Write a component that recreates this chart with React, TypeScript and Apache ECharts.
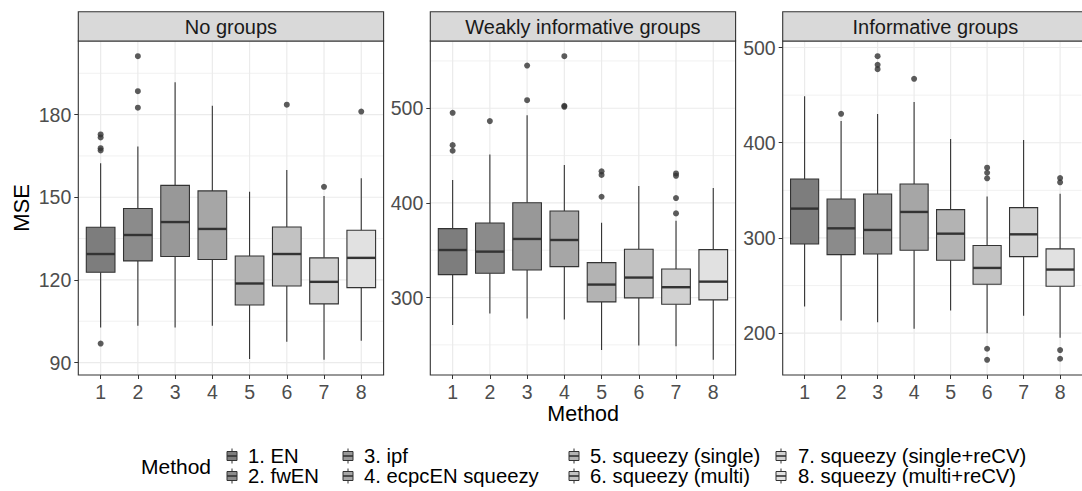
import React, { useEffect, useRef } from "react";
import * as echarts from "echarts";

// ---------- data ----------
const methods = [
  "1. EN",
  "2. fwEN",
  "3. ipf",
  "4. ecpcEN squeezy",
  "5. squeezy (single)",
  "6. squeezy (multi)",
  "7. squeezy (single+reCV)",
  "8. squeezy (multi+reCV)",
];
const methodIndex = [1, 2, 3, 4, 5, 6, 7, 8];
const fills = ["#7d7d7d", "#8b8b8b", "#989898", "#a6a6a6", "#b3b3b3", "#c2c2c2", "#d1d1d1", "#e1e1e1"];
const panelTitles = ["No groups", "Weakly informative groups", "Informative groups"];

// [lower whisker, Q1, median, Q3, upper whisker]
const noGroupsStats = [
  [102.7, 122.8, 129.4, 139.1, 162.3],
  [103.4, 126.9, 136.3, 145.9, 168.4],
  [102.7, 128.5, 141.0, 154.3, 191.7],
  [103.4, 127.4, 138.5, 152.3, 183.2],
  [91.3, 110.9, 118.7, 128.7, 152.0],
  [97.6, 117.8, 129.4, 139.2, 159.9],
  [91.0, 111.3, 119.3, 128.0, 150.5],
  [97.9, 117.2, 128.0, 138.0, 156.9],
];
const noGroupsOutliers = [
  [1, 172.8], [1, 171.7], [1, 167.8], [1, 167.0], [1, 96.9],
  [2, 201.2], [2, 188.5], [2, 182.5],
  [6, 183.6], [7, 153.8], [8, 181.1],
];
const weaklyStats = [
  [271.1, 324.2, 350.2, 372.8, 424.1],
  [283.1, 325.6, 348.5, 378.7, 451.2],
  [277.8, 329.1, 361.9, 400.2, 492.7],
  [276.7, 332.7, 360.8, 391.4, 439.9],
  [244.7, 295.4, 313.7, 336.9, 379.1],
  [249.3, 299.6, 321.1, 351.0, 417.8],
  [248.6, 292.9, 310.9, 330.2, 381.2],
  [234.2, 297.5, 316.8, 350.6, 415.7],
];
const weaklyOutliers = [
  [1, 495.2], [1, 461.0], [1, 455.1],
  [2, 486.4],
  [3, 545.1], [3, 508.5],
  [4, 555.0], [4, 502.5], [4, 501.5],
  [5, 433.3], [5, 429.5], [5, 406.5],
  [7, 431.1], [7, 428.6], [7, 405.1], [7, 388.9],
];
const informativeStats = [
  [228.0, 293.7, 330.8, 361.9, 448.9],
  [213.3, 282.5, 310.1, 340.9, 422.7],
  [211.5, 283.2, 308.4, 346.2, 430.1],
  [204.5, 287.1, 327.3, 356.6, 442.7],
  [223.8, 276.6, 304.5, 329.7, 403.8],
  [200.0, 251.4, 268.5, 292.0, 343.4],
  [218.2, 280.4, 303.8, 331.8, 402.8],
  [195.1, 249.3, 266.8, 288.5, 346.5],
];
const informativeOutliers = [
  [2, 430.4],
  [3, 490.9], [3, 481.8], [3, 477.3],
  [4, 467.1],
  [6, 373.8], [6, 368.5], [6, 362.6], [6, 183.6], [6, 172.0],
  [8, 362.9], [8, 358.4], [8, 182.2], [8, 173.1],
];

const noGroupsMajor = [90, 120, 150, 180];
const noGroupsMinor = [105, 135, 165, 195];
const weaklyMajor = [300, 400, 500];
const weaklyMinor = [250, 350, 450, 550];
const informativeMajor = [200, 300, 400, 500];
const informativeMinor = [250, 350, 450];

// ---------- layout ----------
const FONT = '"Liberation Sans", Arial, Helvetica, sans-serif';
const PANEL_LEFT = [78.3, 430.3, 782.7];
const PANEL_TOP = 41;
const PANEL_W = 305.3;
const PANEL_H = 334;
const STRIP_TOP = 11.7;
const STRIP_H = 29.3;
const BOX_WIDTH = 0.77;
const LEG_TITLE = { x: 141, y: 466 };
const LEG_ROWS = [456, 476];
const LEG_GLYPH_X = [232, 348, 574, 781];
const LEG_TEXT_X = [248, 364, 590, 798];

function extent(stats: number[][], outs: number[][]) {
  const vals = stats.flat().concat(outs.map((o) => o[1]));
  const lo = Math.min(...vals);
  const hi = Math.max(...vals);
  const pad = (hi - lo) * 0.05;
  return [lo - pad, hi + pad];
}

export default function App() {
  const ref = useRef<HTMLDivElement>(null);

  useEffect(() => {
    const chart = echarts.init(ref.current!, null, { renderer: "svg" });

    const panels = [
      { stats: noGroupsStats, outs: noGroupsOutliers, major: noGroupsMajor, minor: noGroupsMinor },
      { stats: weaklyStats, outs: weaklyOutliers, major: weaklyMajor, minor: weaklyMinor },
      { stats: informativeStats, outs: informativeOutliers, major: informativeMajor, minor: informativeMinor },
    ];

    const grid: any[] = [];
    const xAxis: any[] = [];
    const yAxis: any[] = [];
    const series: any[] = [];
    const graphic: any[] = [];

    panels.forEach((p, k) => {
      const [ymin, ymax] = extent(p.stats, p.outs);
      grid.push({ left: PANEL_LEFT[k], top: PANEL_TOP, width: PANEL_W, height: PANEL_H, show: false });
      xAxis.push({
        gridIndex: k,
        type: "value",
        min: 0.4,
        max: 8.6,
        position: "bottom",
        axisLine: { show: false, onZero: false },
        axisTick: { show: true, length: 4, lineStyle: { color: "#333", width: 1 }, customValues: methodIndex },
        axisLabel: {
          customValues: methodIndex,
          formatter: (v: number) => String(v),
          fontSize: 19.5,
          fontFamily: FONT,
          color: "#4d4d4d",
          margin: 7,
        },
        splitLine: { show: false },
      });
      yAxis.push({
        gridIndex: k,
        type: "value",
        min: ymin,
        max: ymax,
        axisLine: { show: false, onZero: false },
        axisTick: { show: true, length: 4, lineStyle: { color: "#333", width: 1 }, customValues: p.major },
        axisLabel: {
          customValues: p.major,
          formatter: (v: number) => String(v),
          fontSize: 19.5,
          fontFamily: FONT,
          color: "#4d4d4d",
          margin: 7,
        },
        splitLine: { show: false },
      });

      // grid lines
      const gridData = [
        ...p.minor.map((v) => [0, v, 1]),
        ...p.major.map((v) => [0, v, 0]),
        ...methodIndex.map((v) => [1, v, 0]),
      ];
      series.push({
        type: "custom",
        xAxisIndex: k,
        yAxisIndex: k,
        z: 1,
        silent: true,
        data: gridData,
        renderItem: (params: any, api: any) => {
          const cs = params.coordSys;
          const kind = api.value(0);
          const v = api.value(1);
          const minor = api.value(2) === 1;
          if (kind === 0) {
            const y = api.coord([1, v])[1];
            return {
              type: "line",
              shape: { x1: cs.x + 0.5, y1: y, x2: cs.x + cs.width - 0.5, y2: y },
              style: { stroke: "#ebebeb", lineWidth: minor ? 0.7 : 1.2 },
            };
          }
          const x = api.coord([v, ymin])[0];
          return {
            type: "line",
            shape: { x1: x, y1: cs.y + 0.5, x2: x, y2: cs.y + cs.height - 0.5 },
            style: { stroke: "#ebebeb", lineWidth: 1.2 },
          };
        },
      });

      // boxes
      series.push({
        type: "custom",
        xAxisIndex: k,
        yAxisIndex: k,
        z: 3,
        silent: true,
        data: p.stats.map((s, i) => [methodIndex[i], ...s]),
        encode: { x: 0, y: [1, 2, 3, 4, 5] },
        renderItem: (params: any, api: any) => {
          const i = params.dataIndex;
          const x = api.value(0);
          const lo = api.coord([x, api.value(1)]);
          const q1 = api.coord([x, api.value(2)]);
          const med = api.coord([x, api.value(3)]);
          const q3 = api.coord([x, api.value(4)]);
          const hi = api.coord([x, api.value(5)]);
          const half = api.size([BOX_WIDTH, 0])[0] / 2;
          const cx = med[0];
          const ln = { stroke: "#333333", lineWidth: 1.1 };
          return {
            type: "group",
            children: [
              { type: "line", shape: { x1: cx, y1: hi[1], x2: cx, y2: q3[1] }, style: ln },
              { type: "line", shape: { x1: cx, y1: q1[1], x2: cx, y2: lo[1] }, style: ln },
              {
                type: "rect",
                shape: { x: cx - half, y: q3[1], width: 2 * half, height: q1[1] - q3[1] },
                style: { fill: fills[i], stroke: "#333333", lineWidth: 1.1 },
              },
              {
                type: "line",
                shape: { x1: cx - half, y1: med[1], x2: cx + half, y2: med[1] },
                style: { stroke: "#333333", lineWidth: 2.4 },
              },
            ],
          };
        },
      });

      // outliers
      series.push({
        type: "scatter",
        xAxisIndex: k,
        yAxisIndex: k,
        z: 4,
        silent: true,
        symbol: "circle",
        symbolSize: 6,
        itemStyle: { color: "#333333" },
        data: p.outs,
      });

      // panel border
      graphic.push({
        type: "rect",
        z: 20,
        silent: true,
        shape: { x: PANEL_LEFT[k], y: PANEL_TOP, width: PANEL_W, height: PANEL_H },
        style: { fill: "none", stroke: "#333333", lineWidth: 1.1 },
      });
      // strip
      graphic.push({
        type: "rect",
        z: 20,
        silent: true,
        shape: { x: PANEL_LEFT[k], y: STRIP_TOP, width: PANEL_W, height: STRIP_H },
        style: { fill: "#d9d9d9", stroke: "#333333", lineWidth: 1.1 },
      });
      graphic.push({
        type: "text",
        z: 21,
        silent: true,
        x: PANEL_LEFT[k] + PANEL_W / 2,
        y: STRIP_TOP + STRIP_H / 2 + 0.5,
        style: {
          text: panelTitles[k],
          fontSize: 20,
          fontFamily: FONT,
          fill: "#1a1a1a",
          align: "center",
          verticalAlign: "middle",
          textAlign: "center",
          textVerticalAlign: "middle",
        },
      });
    });

    // axis titles
    graphic.push({
      type: "text",
      silent: true,
      x: 21,
      y: PANEL_TOP + PANEL_H / 2,
      rotation: Math.PI / 2,
      style: {
        text: "MSE",
        fontSize: 22,
        fontFamily: FONT,
        fill: "#000",
        align: "center",
        verticalAlign: "middle",
        textAlign: "center",
        textVerticalAlign: "middle",
      },
    });
    graphic.push({
      type: "text",
      silent: true,
      x: (PANEL_LEFT[0] + PANEL_LEFT[2] + PANEL_W) / 2,
      y: 413.5,
      style: {
        text: "Method",
        fontSize: 21.5,
        fontFamily: FONT,
        fill: "#000",
        align: "center",
        verticalAlign: "middle",
        textAlign: "center",
        textVerticalAlign: "middle",
      },
    });

    // legend
    graphic.push({
      type: "text",
      silent: true,
      x: LEG_TITLE.x,
      y: LEG_TITLE.y,
      style: {
        text: "Method",
        fontSize: 21,
        fontFamily: FONT,
        fill: "#000",
        align: "left",
        verticalAlign: "middle",
        textAlign: "left",
        textVerticalAlign: "middle",
      },
    });
    methods.forEach((m, i) => {
      const col = Math.floor(i / 2);
      const row = i % 2;
      const gx = LEG_GLYPH_X[col];
      const gy = LEG_ROWS[row];
      graphic.push({
        type: "group",
        silent: true,
        children: [
          { type: "line", shape: { x1: gx, y1: gy - 7.5, x2: gx, y2: gy + 7.5 }, style: { stroke: "#333333", lineWidth: 1 } },
          {
            type: "rect",
            shape: { x: gx - 5, y: gy - 4.5, width: 10, height: 9 },
            style: { fill: fills[i], stroke: "#333333", lineWidth: 1 },
          },
          { type: "line", shape: { x1: gx - 5, y1: gy, x2: gx + 5, y2: gy }, style: { stroke: "#333333", lineWidth: 1.6 } },
        ],
      });
      graphic.push({
        type: "text",
        silent: true,
        x: LEG_TEXT_X[col],
        y: gy,
        style: {
          text: m,
          fontSize: 20.3,
          fontFamily: FONT,
          fill: "#000",
          align: "left",
          verticalAlign: "middle",
          textAlign: "left",
          textVerticalAlign: "middle",
        },
      });
    });

    chart.setOption({
      animation: false,
      backgroundColor: "#ffffff",
      grid,
      xAxis,
      yAxis,
      series,
      graphic,
    });

    return () => chart.dispose();
  }, []);

  return (
    <div
      ref={ref}
      style={{ position: "absolute", left: 0, top: 0, width: 1082, height: 491, background: "#fff" }}
    />
  );
}
